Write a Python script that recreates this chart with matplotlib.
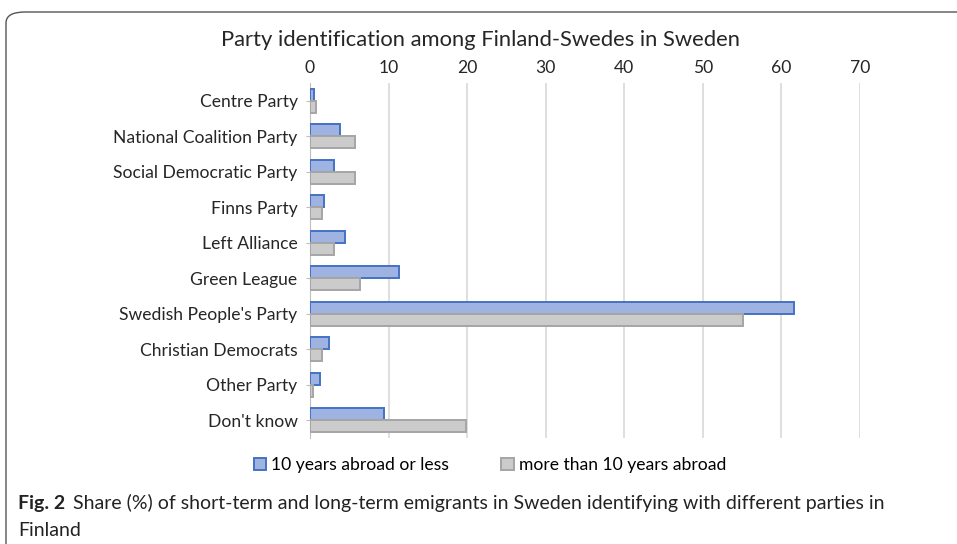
import matplotlib.pyplot as plt
import numpy as np
from matplotlib.patches import FancyBboxPatch

parties = ['Centre Party', 'National Coalition Party', 'Social Democratic Party',
           'Finns Party', 'Left Alliance', 'Green League', "Swedish People's Party",
           'Christian Democrats', 'Other Party', "Don't know"]
short_term = [0.5, 3.8, 3.1, 1.8, 4.4, 11.3, 61.6, 2.4, 1.3, 9.4]
long_term = [0.8, 5.7, 5.7, 1.5, 3.0, 6.4, 55.1, 1.5, 0.35, 19.9]
series_names = ['10 years abroad or less', 'more than 10 years abroad']
xticks = [0, 10, 20, 30, 40, 50, 60, 70]

plt.rcParams['font.family'] = ['Lato', 'DejaVu Sans']

fig = plt.figure(figsize=(9.57, 5.44), dpi=100)
ax = fig.add_axes([310 / 957, 1 - 438 / 544, 550 / 957, 355 / 544])

y = np.arange(len(parties))
h = 0.34
ax.barh(y - h / 2, short_term, height=h, color='#9fb3e2', edgecolor='#4472c4',
        linewidth=1.4, label=series_names[0], zorder=3)
ax.barh(y + h / 2, long_term, height=h, color='#cbcbcb', edgecolor='#a5a5a5',
        linewidth=1.4, label=series_names[1], zorder=3)

ax.set_ylim(len(parties) - 0.5, -0.5)
ax.set_xlim(0, 70)
ax.set_xticks(xticks)
ax.set_yticks(y)
ax.set_yticklabels(parties, fontsize=12.6, color='#262626')
ax.xaxis.tick_top()
ax.tick_params(axis='x', length=0, labelsize=12.6, labelcolor='#262626', pad=5)
ax.tick_params(axis='y', length=3, color='#bfbfbf', pad=6)
ax.grid(axis='x', color='#d9d9d9', linewidth=1.2, zorder=0)
for s in ['top', 'right', 'bottom']:
    ax.spines[s].set_visible(False)
ax.spines['left'].set_color('#bfbfbf')

fig.text(0.5 * (218 + 743) / 957, 1 - 40 / 544,
         'Party identification among Finland-Swedes in Sweden',
         ha='center', va='center', fontsize=15.8, color='#262626')

fig.legend(loc='center', bbox_to_anchor=(490 / 957, 1 - 465 / 544), ncol=2,
           frameon=False, fontsize=12.6, handlelength=0.7, handleheight=0.7,
           columnspacing=3.0, handletextpad=0.3)

fig_lbl = fig.text(18 / 957, 1 - 503 / 544, 'Fig. 2', fontweight='bold', fontsize=14,
                   va='center', color='#222222')
fig.canvas.draw()
bb = fig_lbl.get_window_extent()
fig.text((bb.x1 + 8) / 957, 1 - 503 / 544,
         'Share (%) of short-term and long-term emigrants in Sweden identifying with different parties in',
         fontsize=14, va='center', color='#222222')
fig.text(18 / 957, 1 - 530 / 544, 'Finland', fontsize=14, va='center', color='#222222')

box = FancyBboxPatch((6 / 957, -0.05), 1.2, 1 - 12 / 544 + 0.05,
                     boxstyle='round,pad=0,rounding_size=0.02',
                     transform=fig.transFigure, fill=False,
                     edgecolor='#555555', linewidth=1)
fig.patches.append(box)

fig.savefig('out.png', dpi=100)
